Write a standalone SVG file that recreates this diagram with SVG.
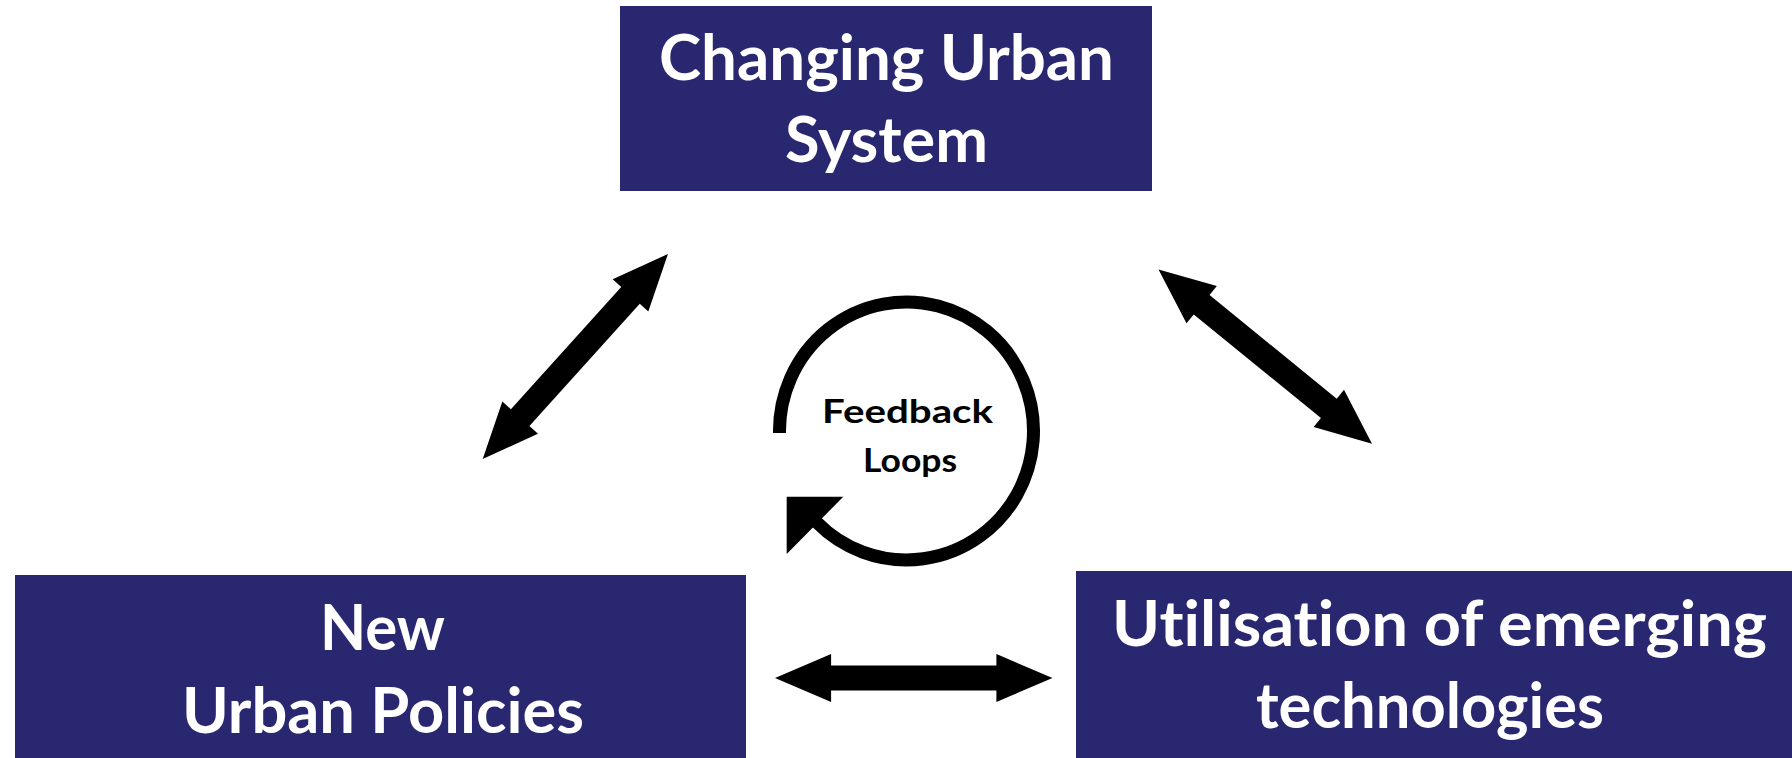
<svg xmlns="http://www.w3.org/2000/svg" xmlns:xlink="http://www.w3.org/1999/xlink" width="1792" height="758" viewBox="0 0 1792 758">
<style>
.box{fill:#29276f;}
.lbl{font-family:Lato,"Open Sans","Liberation Sans",sans-serif;font-weight:bold;font-size:63px;fill:#ffffff;font-variant-ligatures:none;font-feature-settings:"liga" 0,"clig" 0;}
.fb{font-family:Lato,"Open Sans","Liberation Sans",sans-serif;font-weight:bold;font-size:33px;fill:#000000;font-variant-ligatures:none;font-feature-settings:"liga" 0,"clig" 0;}
.arr{fill:#000000;}
</style>
<defs>
<polygon id="dbl" points="0,0 56,-24 56,-12.5 221,-12.5 221,-24 277,0 221,24 221,12.5 56,12.5 56,24"/>
</defs>
<rect width="1792" height="758" fill="#ffffff"/>
<g id="node-changing-urban-system">
<rect class="box" x="620" y="6" width="532" height="185"/>
<text class="lbl" x="659" y="80" textLength="455" lengthAdjust="spacingAndGlyphs">Changing Urban</text>
<text class="lbl" x="785" y="162" textLength="203" lengthAdjust="spacingAndGlyphs">System</text>
</g>
<g id="node-new-urban-policies">
<rect class="box" x="15" y="575" width="731" height="183"/>
<text class="lbl" x="320" y="650" textLength="125" lengthAdjust="spacingAndGlyphs">New</text>
<text class="lbl" x="182" y="733" textLength="402" lengthAdjust="spacingAndGlyphs">Urban Policies</text>
</g>
<g id="node-emerging-technologies">
<rect class="box" x="1076" y="571" width="716" height="187"/>
<text class="lbl" x="1112" y="646" textLength="655" lengthAdjust="spacingAndGlyphs">Utilisation of emerging</text>
<text class="lbl" x="1256" y="728" textLength="348" lengthAdjust="spacingAndGlyphs">technologies</text>
</g>
<g id="feedback-loop">
<path d="M 779.5 433 A 127 129 0 1 1 816.7 522.2" fill="none" stroke="#000000" stroke-width="13"/>
<polygon class="arr" points="786.7,496.7 843.3,496.7 786.7,554"/>
<text class="fb" x="822" y="423" textLength="171" lengthAdjust="spacingAndGlyphs">Feedback</text>
<text class="fb" x="863" y="472" textLength="94" lengthAdjust="spacingAndGlyphs">Loops</text>
</g>
<g id="connectors">
<use xlink:href="#dbl" class="arr" transform="translate(482.7,459) rotate(-47.9) scale(0.9975,1)"/>
<use xlink:href="#dbl" class="arr" transform="translate(1158.5,269.5) rotate(39.2) scale(0.9946,1)"/>
<use xlink:href="#dbl" class="arr" transform="translate(775,678) scale(1.0018,1)"/>
</g>
</svg>
